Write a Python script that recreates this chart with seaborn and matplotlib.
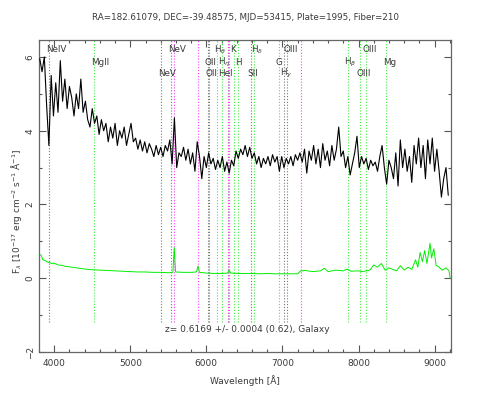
import numpy as np
import pandas as pd
import seaborn as sns
import matplotlib.pyplot as plt
from matplotlib.ticker import MultipleLocator

wave = [
    3810, 3840, 3870, 3900, 3930, 3960, 3990, 4020, 4050, 4080,
    4110, 4140, 4170, 4200, 4230, 4260, 4290, 4320, 4350, 4380,
    4410, 4440, 4470, 4500, 4530, 4560, 4590, 4620, 4650, 4680,
    4710, 4740, 4770, 4800, 4830, 4860, 4890, 4920, 4950, 4980,
    5010, 5040, 5070, 5100, 5130, 5160, 5190, 5220, 5250, 5280,
    5310, 5340, 5370, 5400, 5430, 5460, 5490, 5520, 5550, 5580,
    5610, 5640, 5670, 5700, 5730, 5760, 5790, 5820, 5850, 5880,
    5910, 5940, 5970, 6000, 6030, 6060, 6090, 6120, 6150, 6180,
    6210, 6240, 6270, 6300, 6330, 6360, 6390, 6420, 6450, 6480,
    6510, 6540, 6570, 6600, 6630, 6660, 6690, 6720, 6750, 6780,
    6810, 6840, 6870, 6900, 6930, 6960, 6990, 7020, 7050, 7080,
    7110, 7140, 7170, 7200, 7230, 7260, 7290, 7320, 7350, 7380,
    7410, 7440, 7470, 7500, 7530, 7560, 7590, 7620, 7650, 7680,
    7710, 7740, 7770, 7800, 7830, 7860, 7890, 7920, 7950, 7980,
    8010, 8040, 8070, 8100, 8130, 8160, 8190, 8220, 8250, 8280,
    8310, 8340, 8370, 8400, 8430, 8460, 8490, 8520, 8550, 8580,
    8610, 8640, 8670, 8700, 8730, 8760, 8790, 8820, 8850, 8880,
    8910, 8940, 8970, 9000, 9030, 9060, 9090, 9120, 9150, 9180,
]
flux = [
    5.95, 5.6, 6.0, 4.7, 3.6, 5.5, 4.4, 5.3, 4.5, 5.9,
    4.8, 5.4, 4.6, 5.2, 4.9, 4.4, 5.0, 4.6, 5.4, 4.5,
    4.8, 4.3, 4.1, 4.6, 4.2, 4.4, 3.9, 4.3, 4.0, 4.2,
    3.7, 4.1, 3.8, 4.2, 3.6, 4.0, 3.8, 4.1, 3.6, 3.9,
    4.2, 3.7, 3.8, 3.5, 3.75, 3.45, 3.7, 3.4, 3.65, 3.5,
    3.3, 3.6, 3.35, 3.55, 3.3, 3.6, 3.45, 3.75, 3.1, 4.35,
    3.0, 3.4, 3.3, 3.55, 3.2, 3.5, 3.1, 3.4, 2.9, 3.7,
    3.3, 2.7, 3.3, 3.0, 3.4, 3.1, 3.25, 2.95, 3.2, 3.0,
    3.3, 2.9, 3.15, 2.85, 3.2, 3.05, 3.45, 3.25, 3.5, 3.35,
    3.6, 3.3, 3.55, 3.25, 3.4, 3.1, 3.3, 3.0, 3.25, 3.1,
    3.3, 3.05, 3.35, 3.15, 3.3, 2.9, 3.3, 3.0, 3.25, 3.1,
    3.3, 3.05, 3.35, 3.2, 3.4, 3.15, 3.5, 2.85, 3.45, 3.2,
    3.6, 3.1, 3.5, 3.0, 3.65, 3.2, 3.45, 3.05, 3.6, 3.2,
    3.5, 4.1, 3.3, 3.45, 3.0, 3.3, 2.8, 3.1, 3.4, 3.85,
    3.0, 3.3, 3.1, 3.25, 2.95, 3.2, 3.05, 3.15, 2.9, 3.3,
    3.6, 3.0, 2.55, 3.2, 3.0, 2.7, 3.4, 2.5, 3.75, 3.0,
    3.5, 2.9, 3.3, 2.6, 3.6, 3.1, 3.8, 3.0, 3.6, 2.7,
    3.75, 3.1, 3.8, 2.9, 3.5, 2.9, 2.2, 2.7, 3.0, 2.25,
]

# error spectrum (green)
err_wave = [
    3805, 3830, 3850, 3880, 3910, 3940, 3970, 4000, 4050, 4100,
    4150, 4200, 4300, 4400, 4500, 4600, 4700, 4800, 4900, 5000,
    5100, 5200, 5300, 5400, 5500, 5560, 5578, 5595, 5700, 5800,
    5870, 5890, 5910, 6000, 6100, 6200, 6280, 6300, 6320, 6400,
    6500, 6600, 6700, 6800, 6900, 7000, 7100, 7200, 7240, 7300,
    7400, 7500, 7550, 7600, 7700, 7800, 7850, 7900, 8000, 8050,
    8100, 8150, 8200, 8250, 8300, 8350, 8400, 8500, 8550, 8600,
    8650, 8700, 8750, 8780, 8810, 8840, 8870, 8900, 8940, 8960,
    8990, 9020, 9060, 9100, 9150, 9190, 9205,
]
err_flux = [
    0.65, 0.62, 0.5, 0.48, 0.44, 0.42, 0.4, 0.41, 0.36, 0.35,
    0.32, 0.31, 0.28, 0.25, 0.23, 0.22, 0.21, 0.2, 0.19, 0.18,
    0.17, 0.17, 0.16, 0.16, 0.15, 0.16, 0.83, 0.17, 0.16, 0.16,
    0.17, 0.33, 0.16, 0.14, 0.13, 0.13, 0.14, 0.22, 0.14, 0.13,
    0.13, 0.13, 0.12, 0.13, 0.12, 0.12, 0.12, 0.12, 0.2, 0.21,
    0.18, 0.2, 0.27, 0.18, 0.22, 0.2, 0.25, 0.19, 0.2, 0.18,
    0.2, 0.22, 0.36, 0.3, 0.4, 0.22, 0.28, 0.2, 0.34, 0.22,
    0.3, 0.24, 0.5, 0.3, 0.7, 0.45, 0.75, 0.4, 0.95, 0.55,
    0.8, 0.35, 0.3, 0.22, 0.28, 0.2, 0.0,
]

# marked lines: observed wavelength, label, kind, label row
line_waves = [3936, 4526, 5410, 5540, 6025, 6030, 6141, 6201, 6288, 6361,
              6418, 6584, 6632, 6961, 7019, 7054, 7860, 8018, 8096, 8368]
line_names = ['NeIV', 'MgII', 'NeV', 'NeV', 'OII', 'OII', r'H$_\theta$', r'H$_\eta$',
              'HeI', 'K', 'H', 'SII', r'H$_\delta$', 'G', r'H$_\gamma$', 'OIII',
              r'H$_\beta$', 'OIII', 'OIII', 'Mg']
line_kinds = ['em', 'abs', 'em', 'em', 'em', 'em', 'abs', 'abs', 'abs', 'abs',
              'abs', 'em', 'abs', 'abs', 'em', 'em', 'abs', 'abs', 'abs', 'abs']
line_rows = [0, 1, 2, 0, 1, 2, 0, 1, 2, 0, 1, 2, 0, 1, 2, 0, 1, 2, 0, 1]
sky_waves = [5577, 5890, 6288, 6300, 7246]

kind_colors = {'em': '#7a7a7a', 'abs': '#44ee44'}
row_y = [6.19, 5.85, 5.54]
text_color = '#3a3a3a'

sns.set_style("ticks")
plt.rcParams['font.family'] = ['DejaVu Sans']
plt.rcParams['font.size'] = 6.5

fig = plt.figure(figsize=(4.91, 3.93), dpi=100)
ax = fig.add_axes([39 / 491, 41 / 393, 411.7 / 491, 312 / 393])

dots = (0, (1, 1.6))
for w, kind in zip(line_waves, line_kinds):
    ax.vlines(w, -1.18, 6.46, colors=kind_colors[kind], linestyles=dots, lw=0.8, zorder=1)
ax.vlines(sky_waves, -1.18, 6.46, colors='#ff44ff', linestyles=dots, lw=0.8, zorder=1)

for w, name, row in zip(line_waves, line_names, line_rows):
    x = w - 46
    if name == 'HeI':
        x = w - 132
    ax.text(x, row_y[row], name, ha='left', va='center', fontsize=6.3, color=text_color)

spec = pd.DataFrame({'wave': wave, 'flux': flux})
err = pd.DataFrame({'wave': err_wave, 'flux': err_flux})
sns.lineplot(data=spec, x='wave', y='flux', ax=ax, color='black', lw=0.8,
             estimator=None, sort=False, zorder=3)
sns.lineplot(data=err, x='wave', y='flux', ax=ax, color='#00ee00', lw=0.7,
             estimator=None, sort=False, zorder=2)

ax.set_xlim(3800, 9212)
ax.set_ylim(-2, 6.46)
ax.xaxis.set_major_locator(MultipleLocator(1000))
ax.xaxis.set_minor_locator(MultipleLocator(200))
ax.yaxis.set_major_locator(MultipleLocator(2))
ax.yaxis.set_minor_locator(MultipleLocator(1))
ax.tick_params(which='both', direction='in', top=True, right=True, colors='#555555',
               labelcolor=text_color, labelsize=6.5)
ax.tick_params(which='major', length=5, width=0.8)
ax.tick_params(which='minor', length=2.5, width=0.8)
ax.tick_params(axis='x', pad=5)
ax.tick_params(axis='y', pad=3, labelrotation=90)
for lbl in ax.get_yticklabels():
    lbl.set_va('center')
for s in ax.spines.values():
    s.set_color('#666666')
    s.set_linewidth(0.9)
ax.set_xlabel('')
ax.set_ylabel('')

ax.text(6544, -1.38, 'z= 0.6169 +/- 0.0004 (0.62), Galaxy', ha='center', va='center',
        fontsize=6.5, color=text_color)
fig.text(0.5, 1 - 17 / 393, 'RA=182.61079, DEC=-39.48575, MJD=53415, Plate=1995, Fiber=210',
         ha='center', va='center', fontsize=6.3, color=text_color)
fig.text(245 / 491, 1 - 381 / 393, 'Wavelength [Å]', ha='center', va='center',
         fontsize=6.5, color=text_color)
fig.text(17 / 491, 1 - 211 / 393,
         r'F$_\lambda$ [10$^{-17}$ erg cm$^{-2}$ s$^{-1}$ Å$^{-1}$]',
         rotation=90, ha='center', va='center', fontsize=6.5, color=text_color)

fig.savefig('out.png', dpi=100)
plt.close(fig)
